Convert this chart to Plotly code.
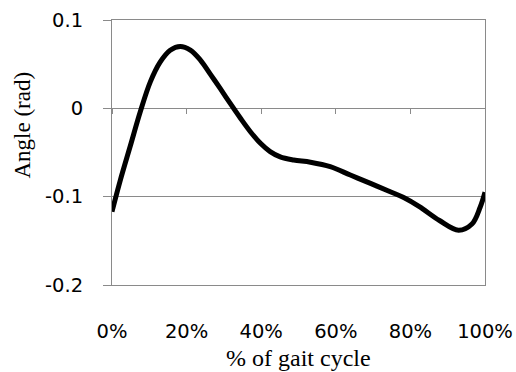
import plotly.graph_objects as go

# Gait cycle (%) and joint angle (rad)
gait_pct = [0, 2.2, 4.9, 7.6, 10.3, 12.9, 15.6, 18.3, 21, 23.7, 26.4, 29, 31.7,
            34.4, 37.1, 39.8, 42.4, 45.1, 48.7, 53.2, 58.5, 63.9, 69.3, 74.6,
            78.2, 82.3, 87.8, 92.9, 96.5, 98.7, 100]
angle_rad = [-0.117, -0.0818, -0.0427, -0.0036, 0.0302, 0.0523, 0.0658, 0.0701,
             0.066, 0.0547, 0.0385, 0.0225, 0.0055, -0.011, -0.0265, -0.0396,
             -0.049, -0.055, -0.0585, -0.061, -0.066, -0.0755, -0.085, -0.0944,
             -0.101, -0.111, -0.127, -0.138, -0.131, -0.112, -0.095]

x_ticks = [0, 20, 40, 60, 80, 100]
x_tick_labels = ["0%", "20%", "40%", "60%", "80%", "100%"]
y_ticks = [-0.2, -0.1, 0, 0.1]
y_tick_labels = ["-0.2", "-0.1", "0", "0.1"]
y_range = [-0.2, 0.1]

GRID = "#8a8a8a"
TICKFONT = dict(family="DejaVu Sans", size=19.5, color="black")

zero_frac = (0 - y_range[0]) / (y_range[1] - y_range[0])

fig = go.Figure()
fig.add_trace(go.Scatter(x=gait_pct, y=angle_rad, mode="lines",
                         line=dict(color="black", width=5, shape="spline",
                                   smoothing=1.0),
                         showlegend=False))
# helper trace so that the zero-line tick axis (x2 / y2) exists
fig.add_trace(go.Scatter(x=gait_pct, y=angle_rad, xaxis="x2", yaxis="y2",
                         mode="markers", marker=dict(size=1, opacity=0),
                         hoverinfo="skip", showlegend=False))

fig.update_layout(
    width=516, height=372,
    margin=dict(l=112, r=31, t=20, b=87),
    paper_bgcolor="white", plot_bgcolor="rgba(0,0,0,0)",
    xaxis=dict(
        range=[0, 100], tickvals=x_ticks, ticktext=x_tick_labels,
        ticks="", showgrid=False, zeroline=False, automargin=False,
        showline=True, linecolor=GRID, linewidth=1, mirror=True,
        tickfont=TICKFONT, ticklabelstandoff=29,
    ),
    xaxis2=dict(
        range=[0, 100], tickvals=x_ticks, anchor="y2", side="bottom",
        ticks="outside", ticklen=5, tickcolor=GRID, tickwidth=1.2,
        showticklabels=False, showgrid=False, zeroline=False, showline=True,
        linecolor="rgba(0,0,0,0)", automargin=False,
    ),
    yaxis=dict(
        range=y_range, tickvals=y_ticks, ticktext=y_tick_labels,
        ticks="outside", ticklen=8, tickcolor=GRID, tickwidth=1,
        showgrid=True, gridcolor=GRID, gridwidth=1, zeroline=False,
        showline=True, linecolor=GRID, linewidth=1, mirror=True,
        tickfont=TICKFONT, ticklabelstandoff=16, automargin=False,
    ),
    yaxis2=dict(
        domain=[zero_frac, 1], anchor="x2", range=[0, 1], visible=False,
        showgrid=False, zeroline=False, automargin=False,
    ),
    annotations=[
        dict(text="% of gait cycle", xref="paper", yref="paper",
             x=0.5, y=0, yshift=-73, xanchor="center", yanchor="middle",
             showarrow=False,
             font=dict(family="Liberation Serif", size=24, color="black")),
        dict(text="Angle (rad)", xref="paper", yref="paper",
             x=0, xshift=-90, y=0.5, yshift=27, textangle=-90,
             xanchor="center", yanchor="middle",
             showarrow=False,
             font=dict(family="Liberation Serif", size=23, color="black")),
    ],
)

fig.write_html("out.html")
